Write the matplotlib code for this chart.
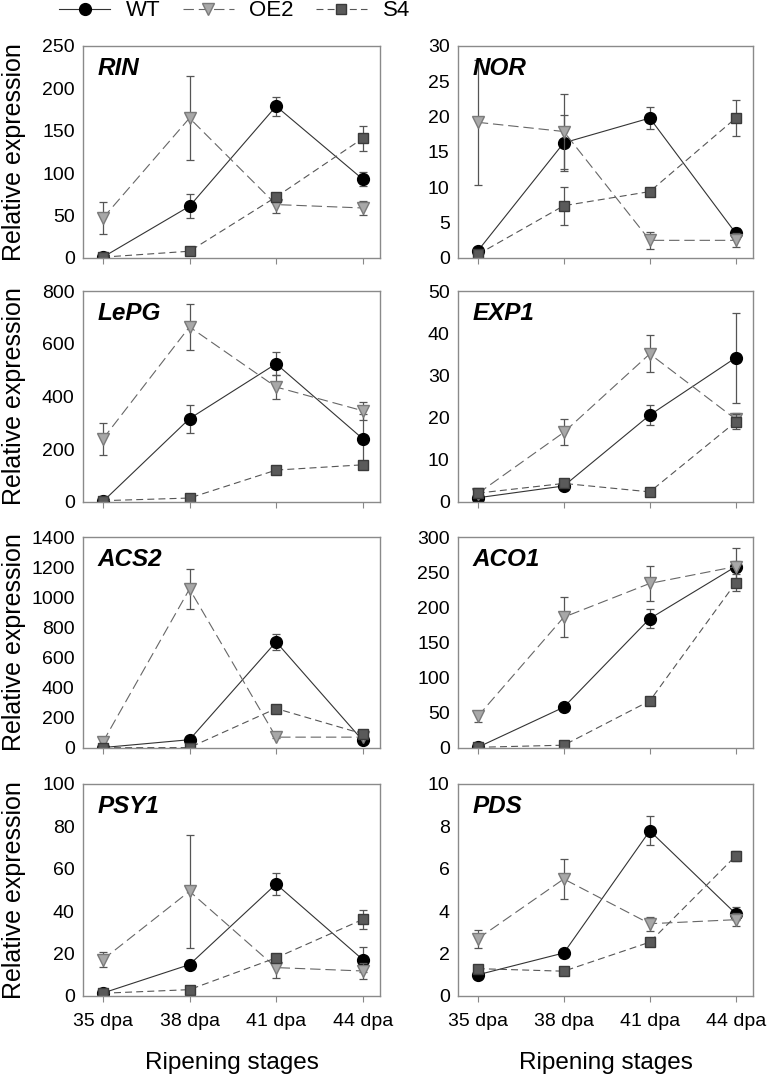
import numpy as np
import matplotlib
matplotlib.use('Agg')
import matplotlib.pyplot as plt
from matplotlib.lines import Line2D

plt.rcParams['font.family'] = ['Liberation Sans', 'DejaVu Sans']
plt.rcParams['lines.scale_dashes'] = False

genes = ['RIN', 'NOR', 'LePG', 'EXP1', 'ACS2', 'ACO1', 'PSY1', 'PDS']
stages = ['35 dpa', '38 dpa', '41 dpa', '44 dpa']
ymax = [250, 30, 800, 50, 1400, 300, 100, 10]
ystep = [50, 5, 200, 10, 200, 50, 20, 2]

wt_mean = [[1, 61, 179, 93],
           [1.0, 16.3, 19.8, 3.5],
           [2, 316, 524, 240],
           [1.0, 3.8, 20.6, 34.2],
           [3, 55, 704, 50],
           [1, 58, 184, 258],
           [1.4, 14.8, 52.8, 17.2],
           [1.0, 2.03, 7.79, 3.88]]
wt_err = [[1, 14, 11, 8],
          [0.3, 4.0, 1.5, 0.8],
          [2, 53, 43, 95],
          [0.3, 0.5, 2.3, 10.7],
          [2, 10, 54, 10],
          [1, 3, 14, 8],
          [0.4, 2.0, 5.3, 5.8],
          [0.05, 0.08, 0.68, 0.3]]
oe2_mean = [[47, 165, 63, 59],
            [19.2, 17.9, 2.5, 2.5],
            [239, 664, 436, 346],
            [2.0, 16.5, 35.1, 19.6],
            [40, 1055, 72, 72],
            [45, 186, 234, 258],
            [17.2, 49.4, 13.4, 11.8],
            [2.7, 5.52, 3.41, 3.6]]
oe2_err = [[19, 50, 10, 8],
           [8.8, 5.3, 1.2, 1.0],
           [60, 88, 46, 35],
           [0.3, 3.1, 4.4, 1.5],
           [10, 130, 5, 5],
           [8, 28, 25, 26],
           [3.5, 26.7, 4.7, 3.8],
           [0.42, 0.96, 0.33, 0.32]]
s4_mean = [[1, 8, 72, 141],
           [0.5, 7.4, 9.4, 19.8],
           [5, 15, 121, 141],
           [2.1, 4.4, 2.4, 19.0],
           [2, 3, 262, 94],
           [1, 4, 67, 235],
           [1.3, 3.0, 18.0, 36.1],
           [1.29, 1.17, 2.54, 6.61]]
s4_err = [[1, 2, 4, 15],
          [0.2, 2.7, 0.5, 2.6],
          [3, 5, 8, 10],
          [0.3, 0.4, 0.3, 1.8],
          [2, 2, 10, 8],
          [1, 1, 3, 12],
          [0.3, 0.5, 1.0, 4.3],
          [0.05, 0.05, 0.08, 0.25]]

W, H = 768, 1079
fig = plt.figure(figsize=(W / 100, H / 100), dpi=100)

cols = [(83, 380), (458, 753)]
rows = [(46, 258), (291, 502), (537, 748), (784, 996)]

styles = [
    dict(color='#333333', lw=0.8, ls='-', marker='o', ms=8.5,
         mfc='black', mec='black'),
    dict(color='#666666', lw=0.8, dashes=(7.5, 3.5), marker='v', ms=9,
         mfc='#a8a8a8', mec='#7a7a7a'),
    dict(color='#555555', lw=0.8, dashes=(5, 3), marker='s', ms=7.5,
         mfc='#5a5a5a', mec='#3a3a3a'),
]
means = [wt_mean, oe2_mean, s4_mean]
errs = [wt_err, oe2_err, s4_err]

x = np.arange(len(stages))
for i, gene in enumerate(genes):
    r, c = divmod(i, 2)
    x0, x1 = cols[c]
    y0, y1 = rows[r]
    ax = fig.add_axes([x0 / W, 1 - y1 / H, (x1 - x0) / W, (y1 - y0) / H])
    for m, e, st in zip(means, errs, styles):
        ax.errorbar(x, m[i], yerr=e[i], fmt='none', ecolor='#555555',
                    elinewidth=0.9, capsize=3, capthick=0.9)
        ax.plot(x, m[i], **st)
    ax.set_xlim(-0.23, 3.2)
    ax.set_ylim(0, ymax[i])
    ax.set_yticks(np.arange(0, ymax[i] + ystep[i] / 2, ystep[i]))
    ax.set_xticks(x)
    if r == 3:
        ax.set_xticklabels(stages, fontsize=14)
        fig.text((x0 + x1) / 2 / W, 1 - 1063 / H, 'Ripening stages',
                 fontsize=17.5, ha='center', va='center')
    else:
        ax.set_xticklabels([])
    ax.tick_params(axis='x', direction='out', length=4, width=0.8,
                   color='#888888', pad=8)
    ax.tick_params(axis='y', length=0, labelsize=14, pad=6)
    for sp in ax.spines.values():
        sp.set_color('#8a8a8a')
        sp.set_linewidth(1.0)
    if c == 0:
        fig.text(14.5 / W, 1 - (y0 + y1) / 2 / H, 'Relative expression',
                 fontsize=18, rotation=90, ha='center', va='center')
    ax.text(0.05, 0.95, gene, transform=ax.transAxes, fontsize=17.5,
            fontweight='bold', fontstyle='italic', va='top', ha='left')

handles = [Line2D([], [], **st) for st in styles]
fig.legend(handles, ['WT', 'OE2', 'S4'], loc='center left',
           bbox_to_anchor=(59 / W, 1 - 11 / H), ncol=3, frameon=False,
           fontsize=16, handlelength=2.3, handletextpad=0.7,
           columnspacing=1.0, borderpad=0, borderaxespad=0)

fig.savefig('out.png', dpi=100)
